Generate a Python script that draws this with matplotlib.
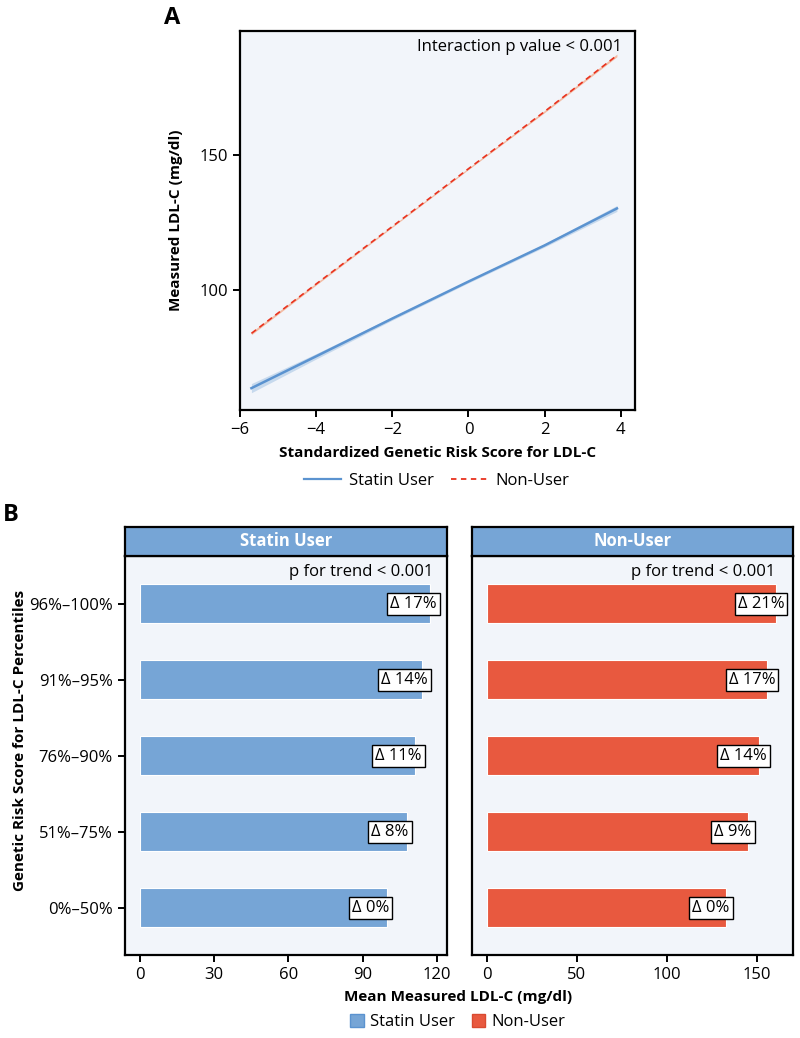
import numpy as np
import matplotlib.pyplot as plt
from matplotlib.lines import Line2D
from matplotlib.patches import Patch

plt.rcParams['font.family'] = ['Open Sans', 'DejaVu Sans']

# Painel A: retas ajustadas
grs = [-5.7, -4, -2, 0, 2, 3.9]
statin_fit = [63.7, 75.5, 89.5, 103.2, 116.6, 130.3]
statin_lo = [62.0, 74.5, 88.9, 102.7, 116.0, 129.2]
statin_hi = [65.4, 76.5, 90.1, 103.7, 117.2, 131.4]
nonuser_fit = [84.0, 102.3, 123.6, 145.0, 166.2, 187.0]
nonuser_lo = [83.5, 101.9, 123.3, 144.7, 165.8, 186.5]
nonuser_hi = [84.5, 102.7, 123.9, 145.3, 166.6, 187.5]

# Painel B: barras por percentil
percentiles = ['0%–50%', '51%–75%', '76%–90%', '91%–95%', '96%–100%']
statin_mean = [100.0, 107.8, 111.2, 113.8, 117.3]
statin_delta = ['Δ 0%', 'Δ 8%', 'Δ 11%', 'Δ 14%', 'Δ 17%']
nonuser_mean = [133.0, 145.2, 151.0, 155.8, 160.8]
nonuser_delta = ['Δ 0%', 'Δ 9%', 'Δ 14%', 'Δ 17%', 'Δ 21%']

blue = '#76A5D6'
red = '#E8593F'
bg = '#F2F5FA'
fs = 12
fsb = 11  # rótulos em negrito

fig = plt.figure(figsize=(8, 10.38), dpi=100)

def style_spines(ax):
    for s in ax.spines.values():
        s.set_linewidth(1.6)
    ax.tick_params(width=1.4, length=5, labelsize=fs)

# ---- A ----
axA = fig.add_axes([0.30, 0.605, 0.494, 0.365])
axA.set_facecolor(bg)
axA.fill_between(grs, statin_lo, statin_hi, color=blue, alpha=0.35, lw=0)
axA.plot(grs, statin_fit, color='#5B93D0', lw=1.8)
axA.fill_between(grs, nonuser_lo, nonuser_hi, color='#F4A582', alpha=0.7, lw=0)
axA.plot(grs, nonuser_fit, color='#E8331F', lw=1.2, ls=(0, (3.5, 2.5)))
axA.set_xlim(-6, 4.38)
axA.set_ylim(55.6, 196)
axA.set_xticks([-6, -4, -2, 0, 2, 4])
axA.set_yticks([100, 150])
axA.set_xticklabels(['−6', '−4', '−2', '0', '2', '4'])
style_spines(axA)
axA.set_xlabel('Standardized Genetic Risk Score for LDL-C', fontsize=fsb,
               fontweight='bold', labelpad=6)
axA.set_ylabel('Measured LDL-C (mg/dl)', fontsize=fsb, fontweight='bold', labelpad=12)
axA.text(0.967, 0.958, 'Interaction p value < 0.001', transform=axA.transAxes,
         ha='right', va='center', fontsize=fs)

fig.legend(handles=[Line2D([], [], color='#5B93D0', lw=1.6, label='Statin User'),
                    Line2D([], [], color='#E8331F', lw=1.3, ls=(0, (3, 2.5)), label='Non-User')],
           loc='center', bbox_to_anchor=(0.546, 0.537), ncol=2, frameon=False,
           fontsize=fs, handlelength=2.2, handletextpad=0.5, columnspacing=1.0)

fig.text(0.215, 0.983, 'A', fontsize=17, fontweight='bold', ha='center', va='center')
fig.text(0.014, 0.504, 'B', fontsize=17, fontweight='bold', ha='center', va='center')

# ---- B ----
ypos = np.arange(len(percentiles))
panels = [
    (0.156, 0.4025, statin_mean, statin_delta, blue, 'Statin User', (-6, 124),
     [0, 30, 60, 90, 120], 0.957, -12),
    (0.590, 0.401, nonuser_mean, nonuser_delta, red, 'Non-User', (-8.3, 170),
     [0, 50, 100, 150], 0.944, -11),
]
for left, width, vals, deltas, col, title, xl, xt, ptx, off in panels:
    ax = fig.add_axes([left, 0.080, width, 0.384])
    ax.set_facecolor(bg)
    ax.barh(ypos, vals, height=0.51, color=col, edgecolor='white', lw=0.8)
    ax.set_xlim(*xl)
    ax.set_ylim(-0.62, 4.62)
    ax.set_xticks(xt)
    ax.set_yticks(ypos)
    style_spines(ax)
    if left < 0.3:
        ax.set_yticklabels(percentiles)
    else:
        ax.set_yticklabels([])
        ax.tick_params(axis='y', length=0)
    for y, v, d in zip(ypos, vals, deltas):
        ax.annotate(d, (v, y), xytext=(off, 0), textcoords='offset points',
                    ha='center', va='center', fontsize=fs,
                    bbox=dict(boxstyle='square,pad=0.18', fc='white', ec='black', lw=1))
    ax.text(ptx, 0.962, 'p for trend < 0.001', transform=ax.transAxes,
            ha='right', va='center', fontsize=fs)

    strip = fig.add_axes([left, 0.4644, width, 0.028])
    strip.set_facecolor(blue)
    strip.set_xticks([])
    strip.set_yticks([])
    for s in strip.spines.values():
        s.set_linewidth(1.6)
    strip.text(0.5, 0.5, title, transform=strip.transAxes, ha='center', va='center',
               color='white', fontsize=fs, fontweight='bold')

fig.text(0.5725, 0.0395, 'Mean Measured LDL-C (mg/dl)', ha='center', va='center',
         fontsize=fsb, fontweight='bold')
fig.text(0.025, 0.287, 'Genetic Risk Score for LDL-C Percentiles', ha='center',
         va='center', rotation=90, fontsize=fsb, fontweight='bold')

fig.legend(handles=[Patch(fc=blue, ec='#5B93D0', label='Statin User'),
                    Patch(fc=red, ec='#D94A30', label='Non-User')],
           loc='center', bbox_to_anchor=(0.5725, 0.0154), ncol=2, frameon=False,
           fontsize=fs, handlelength=0.8, handleheight=0.8, handletextpad=0.4,
           columnspacing=1.0)

fig.savefig('out.png', dpi=100)
